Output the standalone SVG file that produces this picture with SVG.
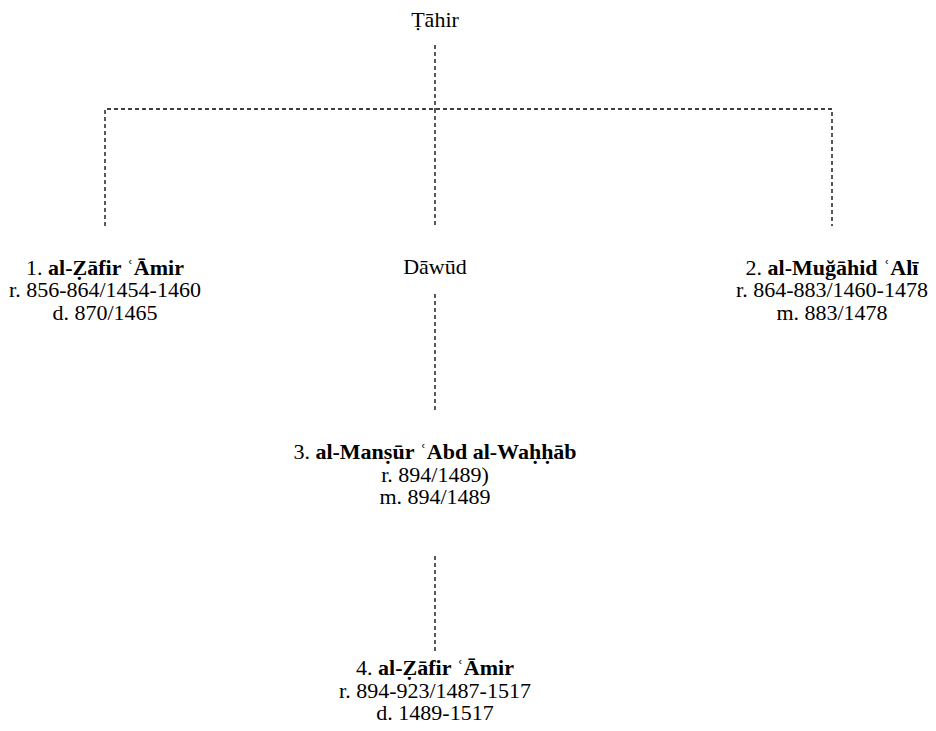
<svg xmlns="http://www.w3.org/2000/svg" width="936" height="731" viewBox="0 0 936 731">
<style>
.t{font-family:'Liberation Serif','Times New Roman',serif;font-size:22px;fill:#000;text-anchor:middle}
.b{font-weight:bold}
.c{stroke:#000;stroke-width:1.3;stroke-dasharray:4,3;fill:none}
</style>
<rect width="936" height="731" fill="#fff"/>
<g id="connectors">
<path class="c" d="M435,45V109"/>
<path class="c" d="M105,226V109H832V226"/>
<path class="c" d="M435,109V226"/>
<path class="c" d="M435,294V410"/>
<path class="c" d="M435,556V653"/>
</g>
<g class="t">
<g id="tahir"><text x="435" y="27">Ṭāhir</text></g>
<g id="zafir1">
<text x="105" y="275">1. <tspan class="b">al-Ẓāfir ʿĀmir</tspan></text>
<text x="105" y="297">r. 856-864/1454-1460</text>
<text x="105" y="320">d. 870/1465</text>
</g>
<g id="dawud"><text x="435" y="274">Dāwūd</text></g>
<g id="mugahid">
<text x="832" y="275">2. <tspan class="b">al-Muğāhid ʿAlī</tspan></text>
<text x="832" y="297">r. 864-883/1460-1478</text>
<text x="832" y="320">m. 883/1478</text>
</g>
<g id="mansur">
<text x="435" y="459">3. <tspan class="b">al-Manṣūr ʿAbd al-Waḥḥāb</tspan></text>
<text x="435" y="482">r. 894/1489)</text>
<text x="435" y="504">m. 894/1489</text>
</g>
<g id="zafir4">
<text x="435" y="675">4. <tspan class="b">al-Ẓāfir ʿĀmir</tspan></text>
<text x="435" y="698">r. 894-923/1487-1517</text>
<text x="435" y="720">d. 1489-1517</text>
</g>
</g>
</svg>
